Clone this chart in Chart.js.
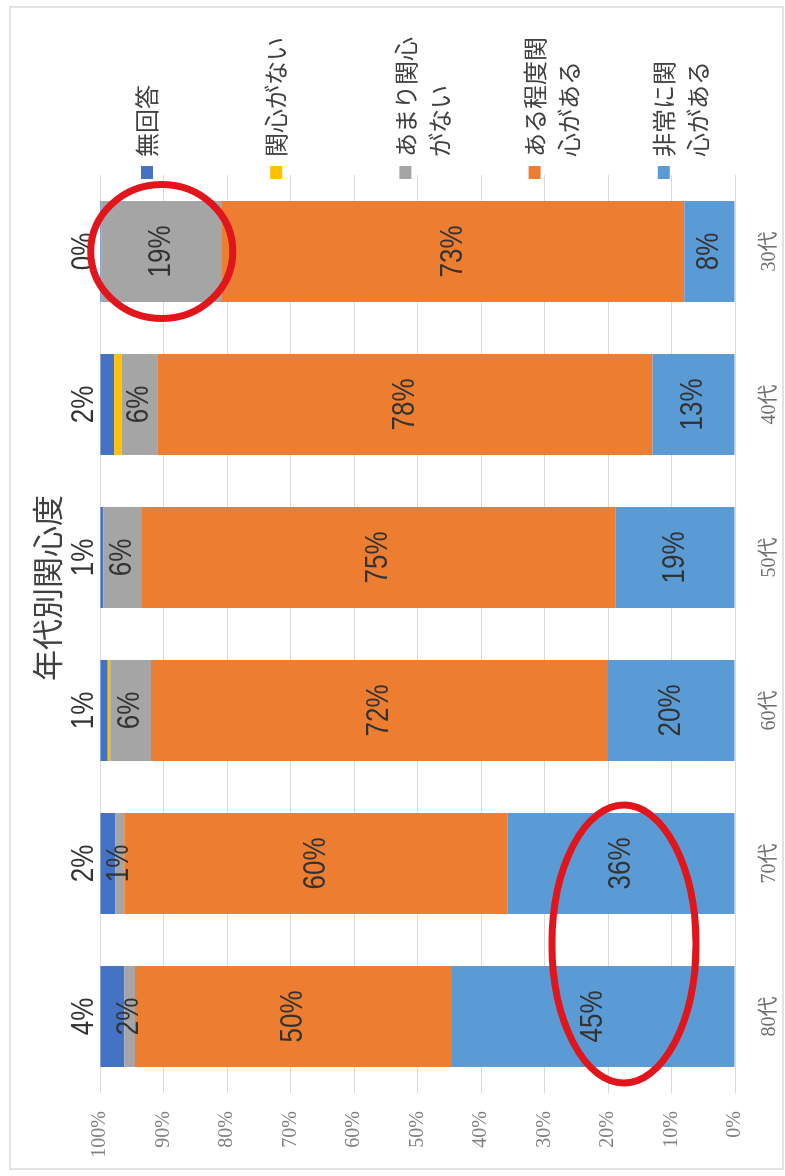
<!DOCTYPE html>
<html lang="ja">
<head>
<meta charset="utf-8">
<title>年代別関心度</title>
<script src="https://cdn.jsdelivr.net/npm/chart.js@4.4.1/dist/chart.umd.min.js"></script>
<style>
  html, body { margin: 0; padding: 0; background: #fff; overflow: hidden; }
  body { width: 785px; height: 1176px; position: relative; }
  /* グラフは横長で描いて、縦向きに回転して表示する */
  #wrap {
    position: absolute; left: 0; top: 0;
    width: 1176px; height: 785px;
    transform-origin: 0 0;
    transform: translate(0px, 1176px) rotate(-90deg);
  }
</style>
</head>
<body>
<div id="wrap"><canvas id="chart" width="1176" height="785"></canvas></div>
<script>
// 年代
const ageGroups = ['80代', '70代', '60代', '50代', '40代', '30代'];

// 回答割合 (%)
const veryInterested     = [44.6, 35.8, 20.0, 18.8, 13.0,  8.0];
const somewhatInterested = [49.9, 60.4, 72.0, 74.6, 78.0, 72.8];
const notVeryInterested  = [ 1.7,  1.4,  6.4,  6.1,  5.6, 19.0];
const notInterested      = [ 0.0,  0.0,  0.4,  0.0,  1.2,  0.0];
const noAnswer           = [ 3.8,  2.4,  1.2,  0.5,  2.2,  0.2];

// 凡例の表示 (折り返し済み)
const legendLines = {
  '無回答': ['無回答'],
  '関心がない': ['関心がない'],
  'あまり関心がない': ['あまり関心', 'がない'],
  'ある程度関心がある': ['ある程度関', '心がある'],
  '非常に関心がある': ['非常に関', '心がある']
};

const COLORS = {
  lightBlue: '#5B9BD5',
  orange: '#ED7D31',
  gray: '#A5A5A5',
  yellow: '#FFC000',
  darkBlue: '#4472C4'
};

function makeSet(label, data, color, extra) {
  return Object.assign({
    label: label,
    data: data,
    backgroundColor: color,
    borderWidth: 0,
    barPercentage: 0.66,
    categoryPercentage: 1.0
  }, extra || {});
}

// 背景と外枠
const framePlugin = {
  id: 'frame',
  beforeDraw(chart) {
    const ctx = chart.ctx;
    ctx.save();
    ctx.fillStyle = '#fff';
    ctx.fillRect(0, 0, chart.width, chart.height);
    ctx.strokeStyle = '#d9d9d9';
    ctx.lineWidth = 1.5;
    ctx.strokeRect(7, 10, 1162, 773);
    ctx.restore();
  }
};

// 各区間のパーセント表示
const valueLabelPlugin = {
  id: 'valueLabels',
  afterDatasetsDraw(chart) {
    const ctx = chart.ctx;
    ctx.save();
    ctx.font = '26px "Liberation Sans", Arial, sans-serif';
    ctx.fillStyle = '#333';
    ctx.textAlign = 'center';
    ctx.textBaseline = 'middle';
    chart.data.datasets.forEach((ds, i) => {
      if (ds.noLabel) return;
      const meta = chart.getDatasetMeta(i);
      meta.data.forEach((bar, j) => {
        const p = bar.getProps(['x', 'y', 'base'], true);
        let cy = (p.y + p.base) / 2;
        if (ds.labelOutside) cy = Math.min(p.y, p.base) - 16;
        ctx.save();
        ctx.translate(p.x, cy);
        ctx.scale(1, 1.2);
        ctx.fillText(Math.round(ds.data[j]) + '%', 0, 0);
        ctx.restore();
      });
    });
    ctx.restore();
  }
};

// 右側の凡例 (上から無回答 → 非常に関心がある)
const legendPlugin = {
  id: 'sideLegend',
  afterDraw(chart) {
    const ctx = chart.ctx;
    const left = chart.chartArea.right - 4;
    const sets = chart.data.datasets.slice().reverse();
    ctx.save();
    ctx.font = '24px "Noto Sans CJK JP", sans-serif';
    ctx.textAlign = 'left';
    ctx.textBaseline = 'middle';
    sets.forEach((ds, k) => {
      const cy = 147 + k * 129.2;
      ctx.fillStyle = ds.backgroundColor;
      ctx.fillRect(left, cy - 6, 13, 12);
      ctx.fillStyle = '#404040';
      (legendLines[ds.label] || [ds.label]).forEach((line, n) => {
        ctx.fillText(line, left + 22, cy + n * 34);
      });
    });
    ctx.restore();
  }
};

// 赤丸の書き込み
const markPlugin = {
  id: 'redMarks',
  afterDraw(chart) {
    const ctx = chart.ctx;
    const xs = chart.scales.x;
    const ys = chart.scales.y;
    const grayBar = chart.getDatasetMeta(2).data[5].getProps(['x', 'y', 'base'], true);
    ctx.save();
    ctx.strokeStyle = '#E0161C';
    ctx.lineWidth = 7;
    ctx.beginPath();
    ctx.ellipse(grayBar.x, (grayBar.y + grayBar.base) / 2, 67, 71, 0, 0, Math.PI * 2);
    ctx.stroke();
    ctx.beginPath();
    ctx.ellipse(xs.getPixelForValue(0.5) - 4, ys.getPixelForValue(17.5), 139, 72, 0, 0, Math.PI * 2);
    ctx.stroke();
    ctx.restore();
  }
};

const chart = new Chart(document.getElementById('chart'), {
  type: 'bar',
  data: {
    labels: ageGroups,
    datasets: [
      makeSet('非常に関心がある', veryInterested, COLORS.lightBlue),
      makeSet('ある程度関心がある', somewhatInterested, COLORS.orange),
      makeSet('あまり関心がない', notVeryInterested, COLORS.gray),
      makeSet('関心がない', notInterested, COLORS.yellow, { noLabel: true }),
      makeSet('無回答', noAnswer, COLORS.darkBlue, { labelOutside: true })
    ]
  },
  options: {
    responsive: false,
    animation: false,
    devicePixelRatio: 1,
    layout: { padding: 0 },
    plugins: {
      legend: { display: false },
      tooltip: { enabled: false },
      title: {
        display: true,
        text: '年代別関心度',
        color: '#404040',
        font: { family: '"Noto Sans CJK JP", sans-serif', size: 31, weight: 'normal' },
        padding: { top: 29, bottom: 34 }
      }
    },
    scales: {
      x: {
        stacked: true,
        grid: { display: false },
        border: { display: false },
        ticks: {
          color: '#6f6f6f',
          font: { family: '"Liberation Serif", "Noto Sans CJK JP", serif', size: 20 },
          padding: 15
        },
        afterFit(s) { s.height = 50; }
      },
      y: {
        stacked: true,
        min: 0,
        max: 100,
        grid: { color: '#d9d9d9', drawTicks: false },
        border: { display: false },
        ticks: {
          stepSize: 10,
          color: '#7f7f7f',
          font: { family: '"Liberation Serif", serif', size: 20 },
          padding: 18,
          callback: v => v + '%'
        },
        afterFit(s) { s.width = 83; }
      },
      // 凡例用の余白
      legendSpace: {
        type: 'linear',
        position: 'right',
        display: true,
        grid: { display: false },
        border: { display: false },
        ticks: { display: false },
        afterFit(s) { s.width = 175; }
      }
    }
  },
  plugins: [framePlugin, valueLabelPlugin, legendPlugin, markPlugin]
});
</script>
</body>
</html>
